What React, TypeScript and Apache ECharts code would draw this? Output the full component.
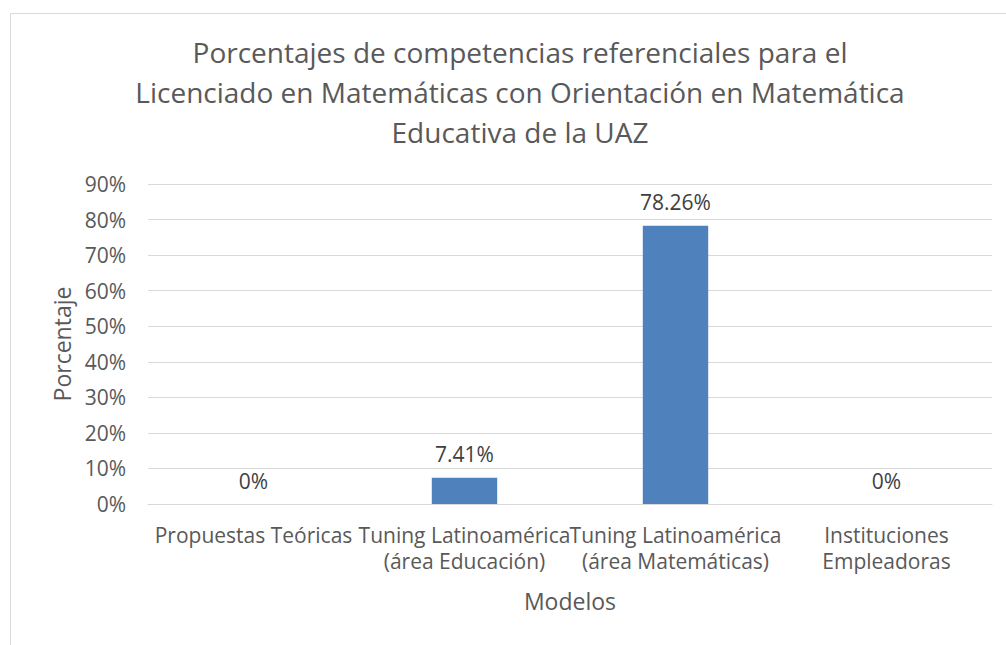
import React, { useEffect, useRef } from "react";
import * as echarts from "echarts";

const titleLines = [
  "Porcentajes de competencias referenciales para el",
  "Licenciado en Matemáticas con Orientación en Matemática",
  "Educativa de la UAZ",
];
const categories = [
  "Propuestas Teóricas",
  "Tuning Latinoamérica\n(área Educación)",
  "Tuning Latinoamérica\n(área Matemáticas)",
  "Instituciones\nEmpleadoras",
];
const values = [0, 7.41, 78.26, 0];
const yAxisName = "Porcentaje";
const xAxisName = "Modelos";

const FONT = "'Open Sans', sans-serif";

export default function App() {
  const ref = useRef<HTMLDivElement>(null);
  useEffect(() => {
    const chart = echarts.init(ref.current!, null, { renderer: "svg" });
    chart.setOption({
      animation: false,
      backgroundColor: "#ffffff",
      textStyle: { fontFamily: FONT },
      title: {
        text: titleLines.join("\n"),
        left: 515,
        top: 27,
        textAlign: "center",
        textStyle: {
          fontFamily: FONT,
          fontSize: 28,
          fontWeight: "normal",
          color: "#595959",
          lineHeight: 40,
        },
      },
      graphic: [
        {
          type: "rect",
          shape: { x: 10.5, y: 13.5, width: 1010, height: 650 },
          style: { fill: "none", stroke: "#d9d9d9", lineWidth: 1 },
          silent: true,
        },
      ],
      grid: { left: 148, right: 14, top: 184, bottom: 141 },
      xAxis: {
        type: "category",
        data: categories,
        name: xAxisName,
        nameLocation: "middle",
        nameGap: 85,
        nameTextStyle: { fontFamily: FONT, fontSize: 23, color: "#595959" },
        axisLine: { lineStyle: { color: "#d9d9d9", width: 1 } },
        axisTick: { show: false },
        axisLabel: {
          interval: 0,
          margin: 18,
          fontFamily: FONT,
          fontSize: 21,
          color: "#595959",
          lineHeight: 26,
        },
      },
      yAxis: {
        type: "value",
        min: 0,
        max: 90,
        interval: 10,
        name: yAxisName,
        nameLocation: "middle",
        nameRotate: 90,
        nameGap: 74,
        nameTextStyle: { fontFamily: FONT, fontSize: 23, color: "#595959" },
        axisLine: { show: false },
        axisTick: { show: false },
        axisLabel: {
          formatter: "{value}%",
          margin: 22,
          fontFamily: FONT,
          fontSize: 21,
          color: "#595959",
        },
        splitLine: { lineStyle: { color: "#d9d9d9", width: 1 } },
      },
      series: [
        {
          type: "bar",
          data: values,
          barWidth: "31%",
          itemStyle: { color: "#4f81bd" },
          label: {
            show: true,
            position: "top",
            distance: 13,
            fontFamily: FONT,
            fontSize: 21,
            color: "#404040",
            formatter: (p: any) => (p.value === 0 ? "0%" : p.value.toFixed(2) + "%"),
          },
        },
      ],
    });
    return () => chart.dispose();
  }, []);
  return (
    <div
      ref={ref}
      style={{ position: "absolute", left: 0, top: 0, width: 1006, height: 645 }}
    />
  );
}
